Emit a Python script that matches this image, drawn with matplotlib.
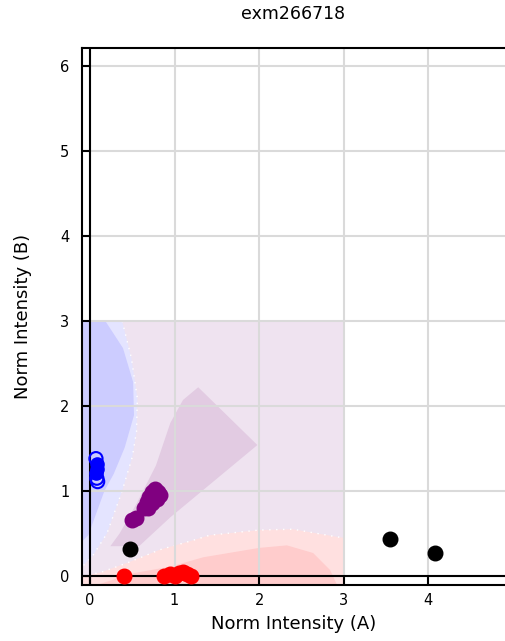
import numpy as np
import matplotlib
matplotlib.use('Agg')
from matplotlib import pyplot as plt

# classification regions (x = Norm Intensity A, y = Norm Intensity B)
zone_box = [(-0.1, -0.1), (3.0, -0.1), (3.0, 3.0), (-0.1, 3.0)]
both_core = [(0.24, 0.35), (0.58, 0.35), (0.95, 0.69), (1.98, 1.54), (1.28, 2.22),
             (1.1, 2.07), (0.95, 1.8), (0.78, 1.3), (0.55, 0.85), (0.35, 0.5)]
b_outer = [(0.38, 3.0), (0.49, 2.56), (0.56, 2.09), (0.55, 1.7), (0.5, 1.4),
           (0.38, 1.0), (0.2, 0.5), (0.04, 0.25), (-0.1, 0.1)]
b_core = [(0.18, 3.0), (0.39, 2.68), (0.51, 2.28), (0.52, 1.89), (0.41, 1.51),
          (0.28, 1.2), (0.17, 1.0), (0.06, 0.7), (-0.02, 0.48), (-0.1, 0.40)]
a_outer = [(-0.1, 0.0), (0.12, 0.04), (0.43, 0.15), (0.83, 0.31), (1.22, 0.42),
           (1.42, 0.48), (2.0, 0.54), (2.4, 0.55), (2.92, 0.46), (3.0, 0.45)]
a_core = [(0.1, -0.1), (0.5, 0.03), (0.95, 0.11), (1.34, 0.22), (2.0, 0.33),
          (2.33, 0.36), (2.64, 0.27), (2.84, 0.07), (2.92, -0.1)]

# samples
black_x = [0.47, 3.55, 4.08]
black_y = [0.32, 0.435, 0.27]
red_x = [0.4, 0.88, 0.95, 1.0, 1.05, 1.1, 1.15, 1.2]
red_y = [0.0, 0.0, 0.02, 0.0, 0.03, 0.05, 0.02, 0.0]
purple_x = [0.5, 0.54, 0.64, 0.67, 0.7, 0.73, 0.77, 0.81, 0.83, 0.79, 0.73, 0.69, 0.75]
purple_y = [0.66, 0.68, 0.8, 0.87, 0.93, 0.99, 1.02, 0.99, 0.95, 0.9, 0.86, 0.8, 0.93]
blue_fill_x = [0.08, 0.08, 0.07]
blue_fill_y = [1.32, 1.26, 1.21]
blue_open_x = [0.07, 0.08, 0.09]
blue_open_y = [1.38, 1.15, 1.11]

title = 'exm266718'
xlabel = 'Norm Intensity (A)'
ylabel = 'Norm Intensity (B)'

fig = plt.figure(figsize=(5.05, 6.41), dpi=100)
ax = fig.add_axes([0.1624, 0.0874, 0.8376, 0.8377])

def poly(pts, col, z):
    xs, ys = zip(*pts)
    ax.fill(xs, ys, color=col, lw=0, zorder=z)

def closed(edge, corner):
    return list(edge) + corner

poly(zone_box, '#efe3f0', 0.1)
poly(both_core, '#e2cbe2', 0.2)
poly(closed(b_outer, [(-0.1, 3.0)]), '#e4e4ff', 0.3)
poly(closed(b_core, [(-0.1, 3.0)]), '#ccccff', 0.4)
poly(closed(a_outer, [(3.0, -0.1), (-0.1, -0.1)]), '#ffe0e0', 0.3)
poly(closed(a_core, []), '#ffcccc', 0.4)
for edge in (b_outer, a_outer):
    xs, ys = zip(*edge)
    ax.plot(xs, ys, color='white', lw=1, ls=(0, (1, 4)), zorder=0.5)

ax.grid(True, color='#dadada', lw=1.5)
for g in ax.get_xgridlines() + ax.get_ygridlines():
    g.set_zorder(0.6)
ax.axvline(0, color='black', lw=1.5, zorder=2)
ax.axhline(0, color='black', lw=1.5, zorder=2)

ax.scatter(black_x, black_y, s=110, color='black', zorder=3)
ax.scatter(red_x, red_y, s=110, color='red', zorder=3)
ax.scatter(purple_x, purple_y, s=110, color='purple', zorder=3)
ax.scatter(blue_fill_x, blue_fill_y, s=90, color='blue', zorder=3)
ax.scatter(blue_open_x, blue_open_y, s=90, facecolor='none', edgecolor='blue', lw=1.5, zorder=3)

ax.set_xlim(-0.095, 4.91)
ax.set_ylim(-0.106, 6.21)
ax.set_xticks(range(0, 5))
ax.set_yticks(range(0, 7))
ax.tick_params(direction='in', length=6, width=1.5, labelsize=10.5)
ax.tick_params(axis='y', pad=9)
ax.tick_params(axis='x', pad=6)
ax.spines['right'].set_visible(False)
for s in ('left', 'top', 'bottom'):
    ax.spines[s].set_linewidth(1.5)

ax.set_title(title, fontsize=12.5, pad=21)
ax.set_xlabel(xlabel, fontsize=13, labelpad=5)
ax.set_ylabel(ylabel, fontsize=13, labelpad=20)

fig.savefig('out.png', dpi=100, facecolor='white')
